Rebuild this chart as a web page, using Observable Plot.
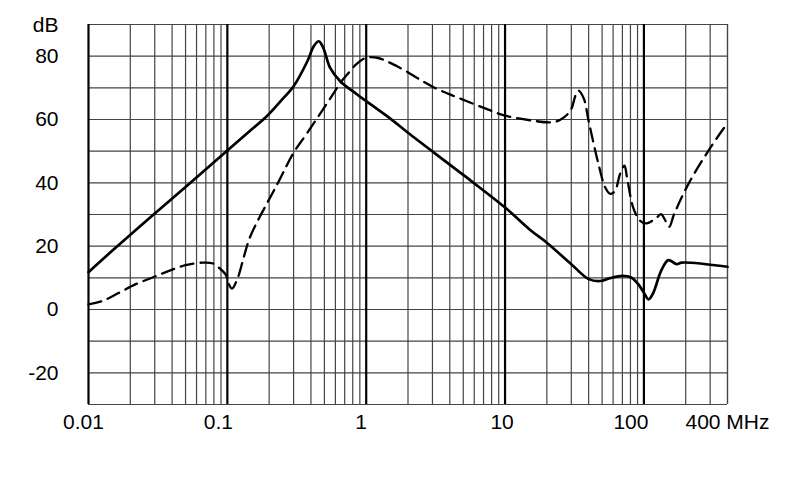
<!DOCTYPE html>
<html>
<head>
<meta charset="utf-8">
<script src="https://cdn.jsdelivr.net/npm/d3@7"></script>
<script src="https://cdn.jsdelivr.net/npm/@observablehq/plot@0.6"></script>
<style>
  html, body { margin: 0; padding: 0; background: #fff; overflow: hidden; }
</style>
</head>
<body>
<div id="chart"></div>
<script>
// Frequency axis (MHz) tick values and labels
const xTickValues = [0.01, 0.1, 1, 10, 100, 400];
const xTickLabels = ["0.01", "0.1", "1", "10", "100", "400 MHz"];
const yTickValues = [80, 60, 40, 20, 0, -20];
const yUnitLabel = "dB";

// Solid curve
const solidFreq = [0.01, 0.0153, 0.03, 0.05, 0.1, 0.15, 0.194, 0.242, 0.30, 0.377, 0.42, 0.456, 0.49, 0.55, 0.65, 0.86, 1.0, 1.5, 2, 5, 10, 15.5, 20, 30, 40, 48.5, 57, 70, 81, 91, 100, 108, 117, 133, 150, 172, 187, 400];
const solidDb   = [11.8, 19.1, 30.3, 38.7, 50.2, 56.9, 61.2, 65.8, 70.5, 78.4, 83.2, 84.7, 82.7, 76.3, 72.1, 67.9, 65.8, 60.2, 55.8, 42.5, 32.2, 24.8, 21.1, 14.3, 9.6, 9.0, 9.9, 10.6, 10.1, 8.0, 5.3, 3.2, 5.3, 12.2, 15.6, 14.3, 14.8, 13.5];

// Dashed curve
const dashedFreq = [0.01, 0.0126, 0.0166, 0.0219, 0.0289, 0.038, 0.05, 0.066, 0.078, 0.087, 0.097, 0.1026, 0.108, 0.118, 0.132, 0.147, 0.229, 0.301, 0.377, 0.55, 0.67, 0.73, 0.85, 1.0, 1.2, 1.67, 3.05, 4.52, 7.92, 10, 15.5, 21.3, 25, 29.6, 32.2, 33.9, 37, 39.9, 47.1, 52.7, 57.2, 62, 67.3, 72.4, 75.6, 83.7, 94, 105, 124, 133, 141, 152, 165, 209, 292, 380, 400];
const dashedDb   = [1.6, 2.7, 5.3, 8.0, 10.1, 12.2, 14.0, 14.8, 14.6, 13.2, 11.1, 8.0, 6.6, 9.6, 16.9, 23.3, 39.6, 49.6, 55.8, 66.6, 72.3, 74.2, 77.5, 79.5, 79.5, 76.8, 70.2, 67.0, 62.8, 61.2, 59.7, 59.1, 59.9, 62.8, 67.6, 69.1, 66.5, 59.7, 45.9, 38.5, 36.5, 37.5, 42.8, 45.4, 41.7, 32.2, 28.0, 27.2, 29.1, 30.1, 28.5, 26.1, 30.1, 39.6, 50.2, 57.5, 58.8];

const solid = solidFreq.map((f, i) => ({f, db: solidDb[i]}));
const dashed = dashedFreq.map((f, i) => ({f, db: dashedDb[i]}));

// Log grid: 2..9 per decade thin, thick lines on decades
const decades = [0.01, 0.1, 1, 10, 100];
const thinGrid = [];
for (const d of decades) for (let m = 2; m <= 9; m++) { const v = d * m; if (v <= 400.0001) thinGrid.push(v); }
thinGrid.push(400);
const hGrid = d3.range(-30, 91, 10);

// small horizontal nudges of the x labels, as in the original artwork
const xLabelNudge = [-5, -9, -5, -3, -13, 0];

const font = "'Liberation Sans', Arial, Helvetica, sans-serif";

const chart = Plot.plot({
  width: 790,
  height: 499,
  marginLeft: 88,
  marginRight: 63,
  marginTop: 24,
  marginBottom: 95,
  style: {fontFamily: font, fontSize: "21px", background: "#fff", color: "#000"},
  x: {type: "log", domain: [0.01, 400], axis: null},
  y: {domain: [-30, 90]},
  marks: [
    Plot.ruleY(hGrid, {stroke: "#444", strokeWidth: 1.2}),
    Plot.ruleX(thinGrid, {stroke: "#444", strokeWidth: 1.2}),
    Plot.ruleX(decades, {stroke: "#000", strokeWidth: 2.2}),
    ...xTickValues.map((v, i) => Plot.text([xTickLabels[i]], {
      x: () => v, frameAnchor: "bottom", text: d => d, dy: 10, dx: xLabelNudge[i],
      lineAnchor: "top", textAnchor: "middle", fontSize: 21, fill: "#000"
    })),
    Plot.axisY(yTickValues, {tickSize: 0, tickPadding: 30, tickFormat: d => String(d), label: null, fontSize: 21}),
    Plot.text([yUnitLabel], {x: () => 0.01, y: () => 90, text: d => d, dx: -30, dy: 7.5, textAnchor: "end", lineAnchor: "bottom", fontSize: 21}),
    Plot.line(dashed, {x: "f", y: "db", stroke: "#000", strokeWidth: 2.3, strokeDasharray: "13,7", curve: "catmull-rom"}),
    Plot.line(solid, {x: "f", y: "db", stroke: "#000", strokeWidth: 2.7, curve: "catmull-rom"})
  ]
});
document.getElementById("chart").appendChild(chart);
</script>
</body>
</html>
